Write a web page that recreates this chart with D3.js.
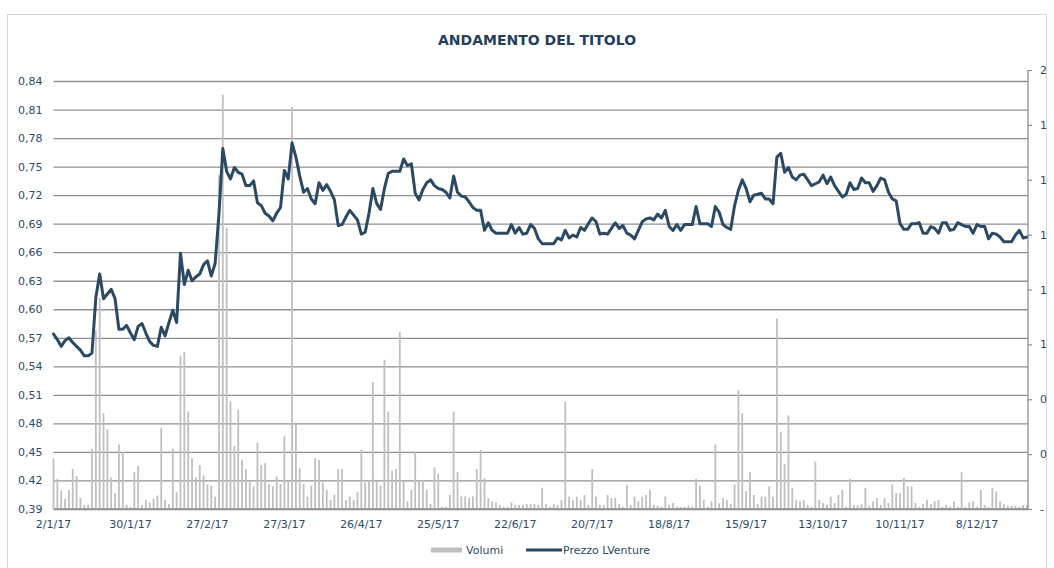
<!DOCTYPE html>
<html>
<head>
<meta charset="utf-8">
<script src="https://cdn.jsdelivr.net/npm/d3@7"></script>
<style>
  html, body { margin: 0; padding: 0; background: #ffffff; }
  svg { display: block; font-family: "DejaVu Sans", Verdana, sans-serif; }
</style>
</head>
<body>
<svg id="chart" width="1054" height="568"></svg>
<script>
// ---------------- DATA ----------------
const title = "ANDAMENTO DEL TITOLO";
const seriesNames = ["Volumi", "Prezzo LVenture"];
const startDate = "2017-01-02";
const endDate = "2017-12-29";
const marketHolidays = ["14/4/17", "17/4/17", "1/5/17", "15/8/17", "25/12/17", "26/12/17"];
const tickLabels = ["2/1/17", "30/1/17", "27/2/17", "27/3/17", "26/4/17", "25/5/17", "22/6/17",
  "20/7/17", "18/8/17", "15/9/17", "13/10/17", "10/11/17", "8/12/17"];
const priceTicks = [0.39, 0.42, 0.45, 0.48, 0.51, 0.54, 0.57, 0.60, 0.63, 0.66, 0.69, 0.72, 0.75, 0.78, 0.81, 0.84];
const volumeTicks = [0, 0.2, 0.4, 0.6, 0.8, 1.0, 1.2, 1.4, 1.6];

// Closing price (EUR), one per trading day
const price = [
  0.574, 0.568, 0.561, 0.567, 0.570, 0.565, 0.561, 0.557, 0.551, 0.551,
  0.554, 0.612, 0.637, 0.611, 0.616, 0.621, 0.611, 0.579, 0.579, 0.583,
  0.575, 0.568, 0.582, 0.585, 0.575, 0.566, 0.562, 0.561, 0.581, 0.572,
  0.586, 0.599, 0.586, 0.659, 0.626, 0.641, 0.630, 0.634, 0.637, 0.647,
  0.651, 0.635, 0.648, 0.700, 0.769, 0.745, 0.737, 0.749, 0.744, 0.742,
  0.730, 0.730, 0.735, 0.712, 0.709, 0.701, 0.698, 0.693, 0.701, 0.707,
  0.746, 0.737, 0.775, 0.760, 0.740, 0.723, 0.727, 0.716, 0.711, 0.733,
  0.725, 0.731, 0.724, 0.715, 0.688, 0.689, 0.697, 0.704, 0.699, 0.694,
  0.679, 0.681, 0.701, 0.727, 0.711, 0.705, 0.727, 0.743, 0.745, 0.745,
  0.745, 0.758, 0.751, 0.753, 0.722, 0.715, 0.726, 0.733, 0.736, 0.730,
  0.727, 0.726, 0.723, 0.717, 0.740, 0.723, 0.719, 0.718, 0.713, 0.707,
  0.704, 0.704, 0.683, 0.691, 0.683, 0.680, 0.680, 0.680, 0.680, 0.689,
  0.680, 0.686, 0.679, 0.680, 0.689, 0.685, 0.674, 0.669, 0.669, 0.669,
  0.669, 0.675, 0.673, 0.683, 0.675, 0.678, 0.676, 0.686, 0.683, 0.690,
  0.696, 0.692, 0.679, 0.680, 0.679, 0.685, 0.691, 0.685, 0.688, 0.680,
  0.678, 0.674, 0.683, 0.692, 0.695, 0.696, 0.694, 0.700, 0.696, 0.704,
  0.687, 0.683, 0.689, 0.683, 0.689, 0.689, 0.689, 0.708, 0.690, 0.690,
  0.690, 0.687, 0.708, 0.702, 0.689, 0.686, 0.684, 0.709, 0.725, 0.736,
  0.727, 0.713, 0.720, 0.721, 0.722, 0.716, 0.716, 0.711, 0.760, 0.764,
  0.744, 0.749, 0.739, 0.736, 0.741, 0.742, 0.736, 0.730, 0.732, 0.734,
  0.741, 0.732, 0.739, 0.730, 0.724, 0.718, 0.721, 0.733, 0.726, 0.727,
  0.738, 0.733, 0.733, 0.724, 0.730, 0.738, 0.736, 0.723, 0.716, 0.714,
  0.690, 0.684, 0.684, 0.690, 0.690, 0.691, 0.680, 0.680, 0.687, 0.685,
  0.680, 0.691, 0.691, 0.683, 0.684, 0.691, 0.689, 0.687, 0.687, 0.680,
  0.689, 0.687, 0.687, 0.674, 0.680, 0.679, 0.676, 0.671, 0.671, 0.671,
  0.678, 0.683, 0.675, 0.676
];

// Traded volume (millions of shares), one per trading day
const volume = [
  0.185, 0.110, 0.067, 0.037, 0.070, 0.146, 0.120, 0.040, 0.015, 0.015,
  0.220, 0.650, 0.770, 0.350, 0.290, 0.115, 0.058, 0.235, 0.207, 0.015,
  0.008, 0.134, 0.158, 0.015, 0.033, 0.024, 0.037, 0.049, 0.296, 0.033,
  0.018, 0.220, 0.061, 0.557, 0.572, 0.355, 0.185, 0.115, 0.160, 0.122,
  0.090, 0.085, 0.045, 1.217, 1.510, 1.025, 0.392, 0.229, 0.361, 0.179,
  0.146, 0.103, 0.083, 0.241, 0.160, 0.167, 0.091, 0.083, 0.119, 0.091,
  0.265, 0.103, 1.466, 0.316, 0.148, 0.091, 0.045, 0.085, 0.185, 0.179,
  0.097, 0.070, 0.033, 0.052, 0.146, 0.146, 0.033, 0.045, 0.033, 0.063,
  0.215, 0.097, 0.106, 0.462, 0.101, 0.085, 0.544, 0.355, 0.140, 0.146,
  0.645, 0.103, 0.028, 0.070, 0.209, 0.106, 0.106, 0.070, 0.018, 0.152,
  0.128, 0.008, 0.008, 0.051, 0.355, 0.134, 0.046, 0.046, 0.040, 0.046,
  0.146, 0.215, 0.113, 0.040, 0.028, 0.024, 0.015, 0.008, 0.008, 0.024,
  0.015, 0.015, 0.015, 0.018, 0.018, 0.018, 0.015, 0.077, 0.018, 0.008,
  0.018, 0.015, 0.033, 0.392, 0.045, 0.033, 0.045, 0.033, 0.051, 0.015,
  0.146, 0.045, 0.015, 0.015, 0.051, 0.040, 0.040, 0.018, 0.008, 0.089,
  0.015, 0.045, 0.028, 0.045, 0.051, 0.070, 0.015, 0.012, 0.008, 0.045,
  0.015, 0.022, 0.008, 0.008, 0.008, 0.012, 0.008, 0.110, 0.085, 0.033,
  0.008, 0.028, 0.235, 0.021, 0.040, 0.033, 0.018, 0.089, 0.432, 0.349,
  0.065, 0.134, 0.051, 0.018, 0.045, 0.045, 0.083, 0.045, 0.694, 0.280,
  0.164, 0.341, 0.077, 0.033, 0.028, 0.033, 0.015, 0.008, 0.173, 0.033,
  0.022, 0.015, 0.045, 0.022, 0.051, 0.070, 0.008, 0.110, 0.015, 0.015,
  0.018, 0.077, 0.012, 0.028, 0.040, 0.015, 0.040, 0.022, 0.089, 0.058,
  0.058, 0.113, 0.083, 0.083, 0.022, 0.008, 0.018, 0.033, 0.018, 0.028,
  0.033, 0.008, 0.015, 0.008, 0.028, 0.008, 0.134, 0.008, 0.024, 0.028,
  0.008, 0.070, 0.015, 0.008, 0.077, 0.065, 0.028, 0.018, 0.012, 0.012,
  0.012, 0.008, 0.015, 0.015
];

// ---------------- CATEGORIES (trading days of Borsa Italiana) ----------------
const fmtDay = d3.timeFormat("%-d/%-m/%y");
const categories = d3.timeDay.range(new Date(startDate + "T00:00:00"), d3.timeDay.offset(new Date(endDate + "T00:00:00"), 1))
  .filter(d => d.getDay() !== 0 && d.getDay() !== 6)
  .map(fmtDay)
  .filter(s => !marketHolidays.includes(s));

const rows = categories.map((c, i) => ({ cat: c, price: price[i], volume: volume[i] }))
  .filter(r => r.price !== undefined);

// ---------------- LAYOUT ----------------
const svg = d3.select("#chart");
const W = 1054, H = 568;
const plot = { left: 53.5, right: 1028, top: 81, bottom: 509 };
const navy = "#2c4964";
const textCol = "#2d4a66";
const gridCol = "#8d8f93";
const barCol = "#bfbfbf";

// outer frame
svg.append("rect").attr("x", 7.5).attr("y", 14.5).attr("width", 1039).attr("height", 560)
  .attr("fill", "none").attr("stroke", "#d6d6d6").attr("stroke-width", 1);

const x = d3.scalePoint().domain(categories).range([plot.left, 1027]);
const yP = d3.scaleLinear().domain([0.39, 0.84]).range([plot.bottom, plot.top]);
const yV = d3.scaleLinear().domain([0, 1.6]).range([plot.bottom, 70]);

// gridlines + left axis labels
const leftAxis = d3.axisLeft(yP).tickValues(priceTicks)
  .tickSize(-(plot.right - plot.left)).tickPadding(11)
  .tickFormat(d => d3.format(".2f")(d).replace(".", ","));
const gL = svg.append("g").attr("transform", `translate(${plot.left},0)`).call(leftAxis);
gL.select(".domain").remove();
gL.selectAll(".tick line").attr("stroke", gridCol).attr("stroke-width", 1.3);
gL.selectAll(".tick text").attr("fill", textCol).attr("font-size", 11)
  .attr("font-family", "DejaVu Sans, sans-serif");

// volume bars
svg.append("g").selectAll("rect").data(rows).join("rect")
  .attr("x", d => x(d.cat) - 0.9)
  .attr("width", 1.8)
  .attr("y", d => yV(d.volume))
  .attr("height", d => yV(0) - yV(d.volume))
  .attr("fill", barCol);

// bottom axis line
svg.append("line").attr("x1", plot.left).attr("x2", plot.right)
  .attr("y1", plot.bottom).attr("y2", plot.bottom)
  .attr("stroke", gridCol).attr("stroke-width", 1.3);

// price line
const line = d3.line().x(d => x(d.cat)).y(d => yP(d.price)).curve(d3.curveLinear);
svg.append("path").datum(rows).attr("d", line)
  .attr("fill", "none").attr("stroke", navy).attr("stroke-width", 3)
  .attr("stroke-linejoin", "round").attr("stroke-linecap", "round");

// right axis
const rightAxis = d3.axisRight(yV).tickValues(volumeTicks).tickSize(4).tickPadding(8)
  .tickFormat(d => d === 0 ? "-" : String(Math.round(d)));
const gR = svg.append("g").attr("transform", `translate(${plot.right},0)`).call(rightAxis);
gR.select(".domain").attr("stroke", gridCol).attr("stroke-width", 1.3)
  .attr("d", `M0,${yV(1.6)}V${yV(0)}`);
gR.selectAll(".tick line").attr("stroke", gridCol).attr("stroke-width", 1.2);
gR.selectAll(".tick text").attr("fill", textCol).attr("font-size", 11)
  .attr("font-family", "DejaVu Sans, sans-serif");

// x axis labels
const gX = svg.append("g");
gX.selectAll("text").data(tickLabels.filter(t => categories.includes(t))).join("text")
  .attr("x", d => x(d))
  .attr("y", 528)
  .attr("text-anchor", "middle")
  .attr("fill", textCol)
  .attr("font-size", 11)
  .text(d => d);

// title
svg.append("text").attr("x", 537).attr("y", 45).attr("text-anchor", "middle")
  .attr("fill", "#233f5c").attr("font-size", 14).attr("font-weight", "bold")
  .text(title);

// legend
const lg = svg.append("g");
lg.append("rect").attr("x", 431).attr("y", 547.5).attr("width", 31).attr("height", 5).attr("fill", barCol);
lg.append("text").attr("x", 466).attr("y", 554).attr("fill", textCol).attr("font-size", 11).text(seriesNames[0]);
lg.append("line").attr("x1", 526).attr("x2", 562).attr("y1", 550).attr("y2", 550)
  .attr("stroke", navy).attr("stroke-width", 3);
lg.append("text").attr("x", 563).attr("y", 554).attr("fill", textCol).attr("font-size", 11).text(seriesNames[1]);
</script>
</body>
</html>
